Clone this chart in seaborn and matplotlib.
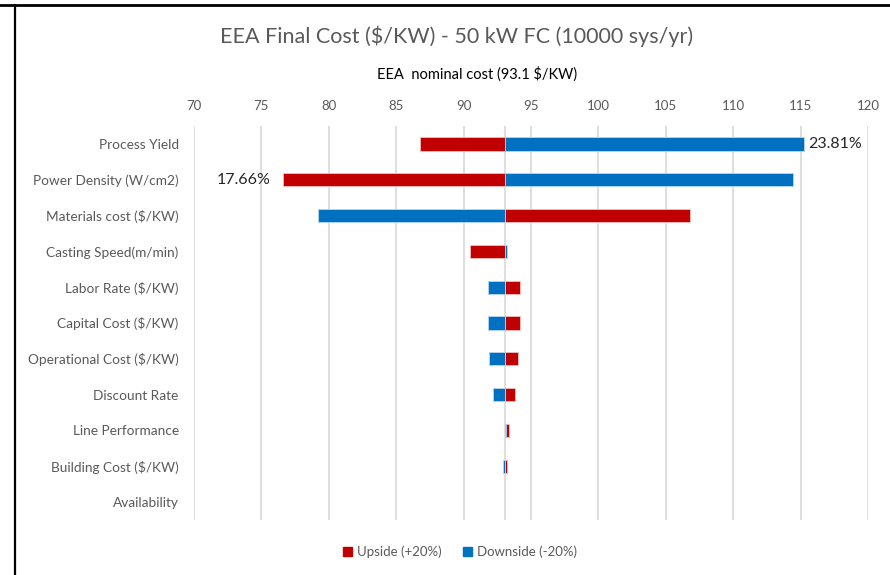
import matplotlib
matplotlib.use("Agg")
import matplotlib.pyplot as plt
import seaborn as sns
import numpy as np
from matplotlib.patches import Patch
from matplotlib.lines import Line2D

sns.set_style("white")
plt.rcParams['font.family'] = ['Lato', 'DejaVu Sans']

categories = ["Process Yield", "Power Density (W/cm2)", "Materials cost ($/KW)",
              "Casting Speed(m/min)", "Labor Rate ($/KW)", "Capital Cost ($/KW)",
              "Operational Cost ($/KW)", "Discount Rate", "Line Performance",
              "Building Cost ($/KW)", "Availability"]
nominal = 93.1
upside = [86.8, 76.6, 106.8, 90.5, 94.2, 94.2, 94.0, 93.8, 93.35, 93.2, 93.1]
downside = [115.25, 114.4, 79.2, 93.2, 91.8, 91.8, 91.9, 92.2, 93.18, 92.9, 93.1]
xticks = [70, 75, 80, 85, 90, 95, 100, 105, 110, 115, 120]
annotations = {0: "23.81%", 1: "17.66%"}

RED = "#C00000"
BLUE = "#0070C0"
GRAY = "#595959"

fig = plt.figure(figsize=(8.9, 5.75), dpi=100)
ax = fig.add_axes([194/890, 1-520/575, 674/890, 394/575])

y = np.arange(len(categories))
up = np.array(upside) - nominal
dn = np.array(downside) - nominal
h = 0.37
lw_up = np.where(np.abs(up) > 0, 0.6, 0)
lw_dn = np.where(np.abs(dn) > 0, 0.6, 0)
ax.barh(y, up, left=nominal, height=h, color=RED, edgecolor="#f3c0c0", linewidth=lw_up, zorder=3)
ax.barh(y, dn, left=nominal, height=h, color=BLUE, edgecolor="#b8d8f0", linewidth=lw_dn, zorder=4)

ax.set_xlim(70, 120)
ax.set_ylim(len(categories) - 0.5, -0.5)
ax.set_xticks(xticks)
ax.xaxis.tick_top()
ax.tick_params(axis='x', length=0, pad=10, labelsize=9.5, labelcolor=GRAY)
ax.set_yticks(y)
ax.set_yticklabels(categories)
ax.tick_params(axis='y', length=0, pad=11, labelsize=9.8, labelcolor=GRAY)
for s in ax.spines.values():
    s.set_visible(False)
ax.grid(axis='x', color="#d9d9d9", linewidth=1.2, zorder=0)
ax.grid(axis='y', visible=False)
ax.axvline(nominal, color="#d9d9d9", linewidth=1.2, zorder=1)

# annotations
ax.text(max(upside[0], downside[0]) + 0.35, 0, annotations[0], va='center', ha='left',
        fontsize=11.5, color="#262626")
ax.text(min(upside[1], downside[1]) - 0.9, 1, annotations[1], va='center', ha='right',
        fontsize=11.5, color="#262626")

fig.text(457/890, 1-36/575, "EEA Final Cost ($/KW) - 50 kW FC (10000 sys/yr)", ha='center',
         va='center', fontsize=15.5, color=GRAY)
fig.text(477/890, 1-74/575, "EEA  nominal cost (93.1 $/KW)", ha='center', va='center',
         fontsize=10.5, color="black")

handles = [Patch(facecolor=RED, edgecolor=RED), Patch(facecolor=BLUE, edgecolor=BLUE)]
fig.legend(handles, ["Upside (+20%)", "Downside (-20%)"], loc='center',
           bbox_to_anchor=(460/890, 1-552/575), ncol=2, frameon=False,
           fontsize=9.5, handlelength=0.7, handleheight=0.7, columnspacing=1.6,
           handletextpad=0.4, labelcolor=GRAY)

# screenshot frame lines
fig.add_artist(Line2D([0, 1], [1-5/575, 1-5/575], transform=fig.transFigure, color="black", linewidth=2))
fig.add_artist(Line2D([15/890, 15/890], [0, 1-5/575], transform=fig.transFigure, color="black", linewidth=1.6))

fig.savefig("out.png", dpi=100)
